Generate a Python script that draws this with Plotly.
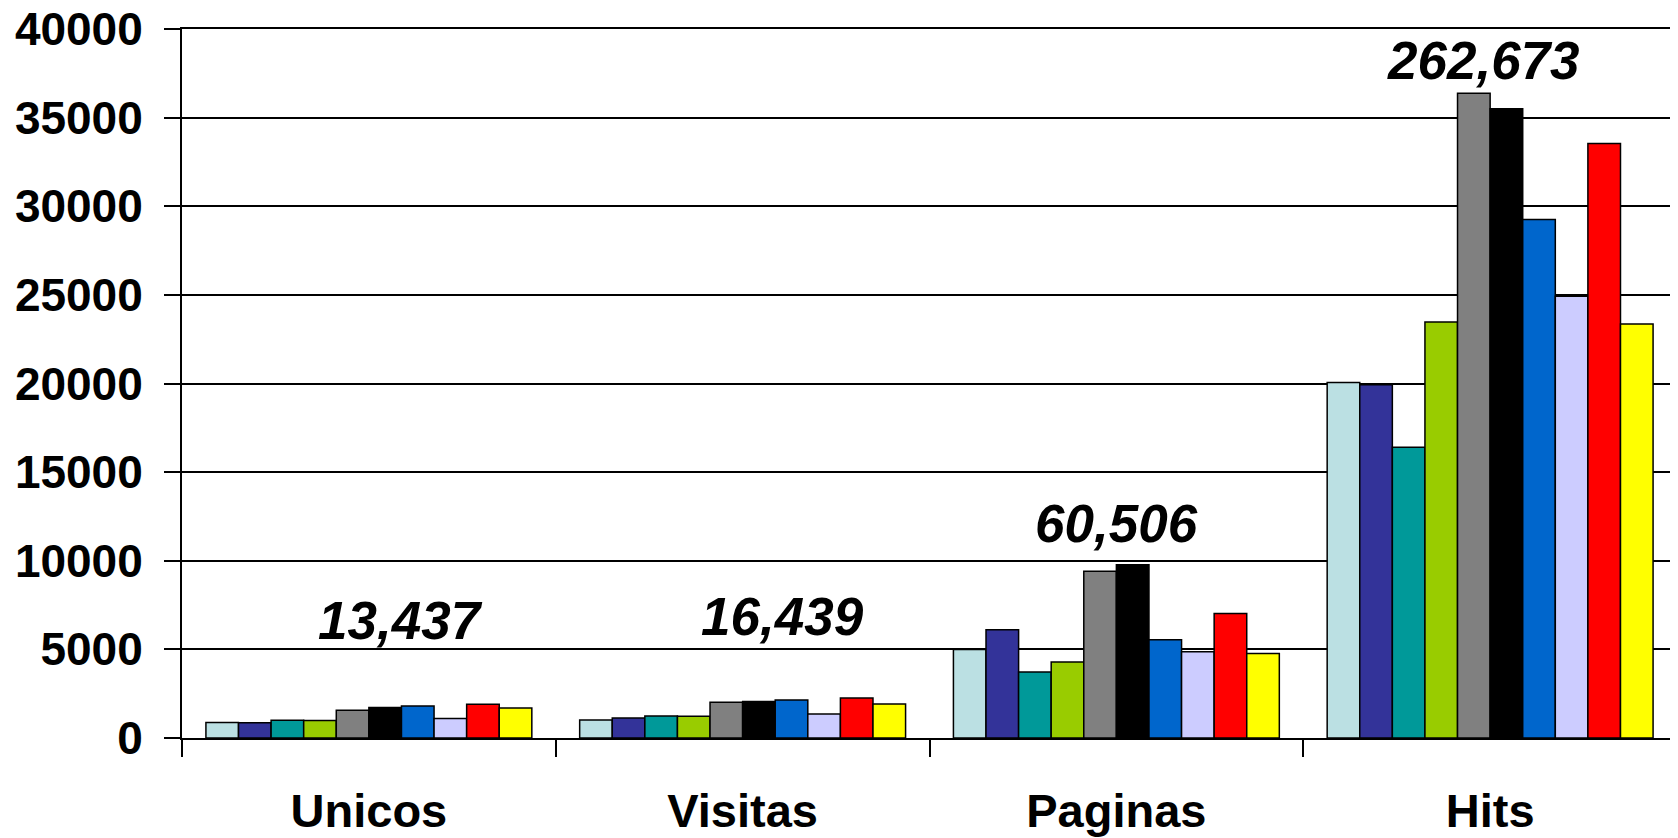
import plotly.graph_objects as go

categories = ["Unicos", "Visitas", "Paginas", "Hits"]
colors = ["#BBE0E3", "#333399", "#009999", "#99CC00", "#808080",
          "#000000", "#0066CC", "#CCCCFF", "#FF0000", "#FFFF00"]

s1 = [870, 1017, 4990, 20058]
s2 = [860, 1130, 6102, 19928]
s3 = [1000, 1243, 3729, 16408]
s4 = [990, 1230, 4294, 23470]
s5 = [1565, 2017, 9402, 36369]
s6 = [1717, 2056, 9775, 35505]
s7 = [1808, 2147, 5537, 29250]
s8 = [1096, 1356, 4859, 24917]
s9 = [1904, 2260, 7029, 33544]
s10 = [1695, 1921, 4769, 23357]
series = [s1, s2, s3, s4, s5, s6, s7, s8, s9, s10]

totals = ["13,437", "16,439", "60,506", "262,673"]
y_ticks = [0, 5000, 10000, 15000, 20000, 25000, 30000, 35000, 40000]
y_ticktext = ["0", "5000", "10000", "15000", "20000", "25000", "30000", "35000", "40000"]

# layout-only positions for total labels
label_y = [6605, 6836, 12074, 38230]
label_xshift = [32, 40, 0, -7]

FONT = "Arial, Liberation Sans, sans-serif"

fig = go.Figure()
for vals, col in zip(series, colors):
    fig.add_trace(go.Bar(
        x=categories, y=vals,
        marker=dict(color=col, line=dict(color="black", width=1.5)),
        showlegend=False,
    ))

for cat, txt, yy, xs in zip(categories, totals, label_y, label_xshift):
    fig.add_annotation(
        x=cat, y=yy, text="<b><i>" + txt + "</i></b>", showarrow=False,
        xshift=xs, yanchor="middle", xanchor="center",
        font=dict(family=FONT, size=53, color="black"),
    )

# the page body adds an 8px offset; margins compensate for it
fig.update_layout(
    width=1678, height=838,
    margin=dict(l=174, r=9, t=21, b=108),
    barmode="group", bargap=0.128, bargroupgap=0,
    plot_bgcolor="white", paper_bgcolor="white",
    font=dict(family=FONT, color="black"),
)
fig.update_xaxes(
    type="category", tickson="boundaries", automargin=False,
    ticks="outside", ticklen=17, tickwidth=2, tickcolor="black",
    showline=True, linecolor="black", linewidth=2, mirror=True,
    showgrid=False,
    tickfont=dict(family=FONT, size=47, color="black", weight="bold"),
    ticklabelstandoff=31,
)
fig.update_yaxes(
    range=[0, 40000], tickvals=y_ticks, ticktext=y_ticktext, automargin=False,
    ticklabeloverflow="allow",
    ticks="outside", ticklen=16, tickwidth=2, tickcolor="black",
    showline=True, linecolor="black", linewidth=2, mirror=True,
    showgrid=True, gridcolor="black", gridwidth=1.5,
    zeroline=False,
    tickfont=dict(family=FONT, size=46, color="black", weight="bold"),
    ticklabelstandoff=12,
)

fig.write_html("out.html")
